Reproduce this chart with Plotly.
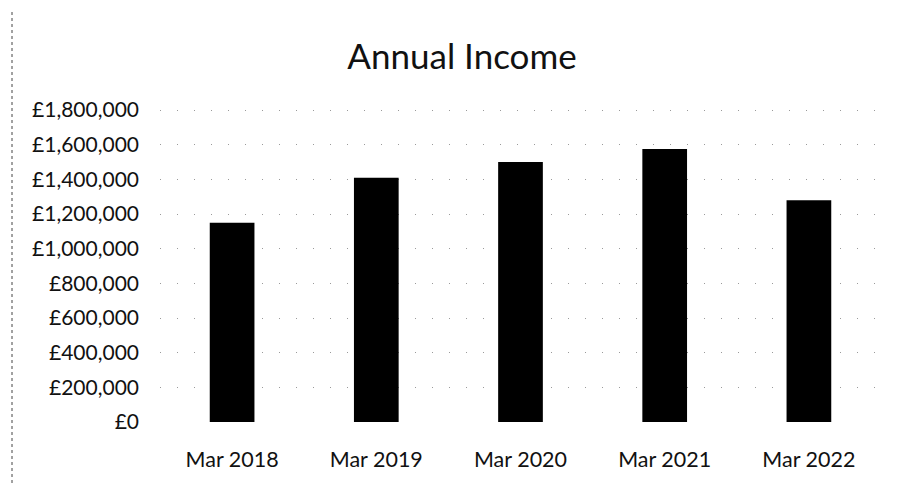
import plotly.graph_objects as go

# Annual income by financial year end
periods = ["Mar 2018", "Mar 2019", "Mar 2020", "Mar 2021", "Mar 2022"]
income = [1150000, 1410000, 1500000, 1575000, 1280000]

W, H = 901, 483
Y_MAX = 1812000  # a little headroom so the top gridline is drawn

fig = go.Figure(
    go.Bar(
        x=periods,
        y=income,
        marker=dict(color="#000000", line=dict(width=0)),
        width=0.31,
    )
)

fig.update_layout(
    width=W,
    height=H,
    margin=dict(l=160, r=20, t=108, b=61),
    paper_bgcolor="white",
    plot_bgcolor="white",
    showlegend=False,
    font=dict(family="Lato", size=21, color="#111111"),
    title=dict(
        text="Annual Income",
        x=462 / W,
        xanchor="center",
        y=1 - 57 / H,
        yanchor="middle",
        font=dict(family="Lato", size=35, color="#111111"),
    ),
    xaxis=dict(
        showgrid=False,
        showline=False,
        zeroline=False,
        ticks="",
        ticklabelstandoff=22,
        tickfont=dict(size=21.5),
    ),
    yaxis=dict(
        range=[0, Y_MAX],
        tick0=0,
        dtick=200000,
        tickprefix="£",
        tickformat=",d",
        showline=False,
        zeroline=False,
        ticks="",
        ticklabelstandoff=20,
        showgrid=True,
        gridcolor="#9a9a9a",
        gridwidth=1,
        griddash="1px,16px",
    ),
    shapes=[
        dict(
            type="line",
            xref="paper",
            yref="paper",
            x0=-148 / 721,
            x1=-148 / 721,
            y0=-61 / 314,
            y1=(314 + 108 - 10) / 314,
            line=dict(color="#444444", width=1, dash="dot"),
        )
    ],
)

fig.write_html("out.html")
